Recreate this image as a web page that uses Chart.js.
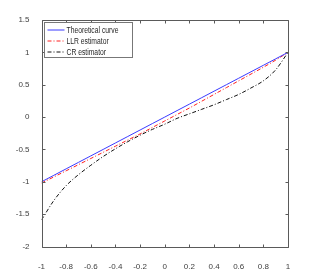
<!DOCTYPE html>
<html><head><meta charset="utf-8">
<script src="https://cdn.jsdelivr.net/npm/chart.js@4.4.0/dist/chart.umd.min.js"></script>
<style>html,body{margin:0;padding:0;background:#fff;}#wrap{width:319px;height:277px;}</style>
</head><body><div id="wrap"><canvas id="c" width="319" height="277"></canvas></div>
<script>
const xs = [-1,-0.9,-0.8,-0.7,-0.6,-0.5,-0.4,-0.3,-0.2,-0.1,0,0.1,0.2,0.3,0.4,0.5,0.6,0.7,0.8,0.9,1];
const theoretical = [-1,-0.9,-0.8,-0.7,-0.6,-0.5,-0.4,-0.3,-0.2,-0.1,0,0.1,0.2,0.3,0.4,0.5,0.6,0.7,0.8,0.9,1];
const llr = [-1.02,-0.925,-0.83,-0.735,-0.64,-0.545,-0.45,-0.355,-0.26,-0.16,-0.06,0.04,0.14,0.245,0.35,0.455,0.56,0.665,0.77,0.88,1.0];
const cr = [-1.59,-1.29,-1.06,-0.89,-0.745,-0.61,-0.49,-0.38,-0.28,-0.19,-0.11,-0.02,0.05,0.12,0.19,0.27,0.35,0.45,0.56,0.73,1.0];
const labels = ['Theoretical curve','LLR estimator','CR estimator'];
const xTicks = [-1,-0.8,-0.6,-0.4,-0.2,0,0.2,0.4,0.6,0.8,1];
const yTicks = [-2,-1.5,-1,-0.5,0,0.5,1,1.5];

const FONT = '"Liberation Sans Narrow", "Liberation Sans", Arial, sans-serif';
const AXC = '#5a5a5a';
const pts = a => xs.map((x,i)=>({x:x,y:a[i]}));
const fmt = v => String(Number(v.toFixed(1)));

const boxPlugin = {
  id:'box',
  afterDraw(chart){
    const {ctx, chartArea:a, scales} = chart;
    const L = Math.round(a.left)+0.5, R = Math.round(a.right)+0.5, T = Math.round(a.top)+0.5, B = Math.round(a.bottom)+0.5;
    ctx.save();
    ctx.strokeStyle = AXC; ctx.lineWidth = 1; ctx.setLineDash([]);
    ctx.beginPath(); ctx.rect(L, T, R-L, B-T); ctx.stroke();
    const tl = 3;
    ctx.beginPath();
    xTicks.forEach(v=>{ const p = Math.round(scales.x.getPixelForValue(v))+0.5; ctx.moveTo(p,B); ctx.lineTo(p,B-tl); ctx.moveTo(p,T); ctx.lineTo(p,T+tl); });
    yTicks.forEach(v=>{ const p = Math.round(scales.y.getPixelForValue(v))+0.5; ctx.moveTo(L,p); ctx.lineTo(L+tl,p); ctx.moveTo(R,p); ctx.lineTo(R-tl,p); });
    ctx.stroke();
    // legend
    const lx = 44.5, ly = 22.5, lw = 88, lh = 35;
    ctx.fillStyle = '#fff'; ctx.fillRect(lx, ly, lw, lh);
    ctx.strokeStyle = '#777'; ctx.strokeRect(lx, ly, lw, lh);
    ctx.font = '8.5px ' + FONT; ctx.textBaseline = 'middle'; ctx.textAlign = 'left';
    const sx = Math.min(1, 52 / ctx.measureText(labels[0]).width);
    chart.data.datasets.forEach((ds,i)=>{
      const y = ly + 7.5 + i*11;
      ctx.strokeStyle = ds.borderColor; ctx.lineWidth = ds.borderWidth;
      ctx.setLineDash(ds.borderDash || []);
      ctx.beginPath(); ctx.moveTo(lx+3, y); ctx.lineTo(lx+20, y); ctx.stroke();
      ctx.setLineDash([]);
      ctx.save(); ctx.translate(lx+22, y+0.5); ctx.scale(sx,1);
      ctx.fillStyle = '#262626'; ctx.fillText(ds.label, 0, 0);
      ctx.restore();
    });
    ctx.restore();
  }
};

new Chart(document.getElementById('c'), {
  type:'line',
  data:{datasets:[
    {label:labels[0], data:pts(theoretical), borderColor:'#3b3bff', borderWidth:1, pointRadius:0, tension:0},
    {label:labels[1], data:pts(llr), borderColor:'#ff2020', borderWidth:1, borderDash:[4,2,1,2], pointRadius:0, cubicInterpolationMode:'monotone'},
    {label:labels[2], data:pts(cr), borderColor:'#111', borderWidth:1, borderDash:[4,2,1,2], pointRadius:0, cubicInterpolationMode:'monotone'}
  ]},
  options:{
    responsive:false, animation:false, events:[],
    layout:{padding:{top:20, right:31, left:0, bottom:0}},
    plugins:{legend:{display:false}, tooltip:{enabled:false}},
    scales:{
      x:{type:'linear', min:-1, max:1,
         afterBuildTicks: s => { s.ticks = xTicks.map(v=>({value:v})); },
         afterFit: s => { s.height = 30.5; },
         grid:{display:false}, border:{display:false},
         ticks:{padding:7, color:'#404040', font:{family:FONT, size:8}, callback:v=>fmt(v), maxRotation:0, autoSkip:false}},
      y:{type:'linear', min:-2, max:1.5,
         afterBuildTicks: s => { s.ticks = yTicks.map(v=>({value:v})); },
         afterFit: s => { s.width = 41.5; },
         grid:{display:false}, border:{display:false},
         ticks:{padding:4, color:'#404040', font:{family:FONT, size:8}, callback:v=>fmt(v), autoSkip:false}}
    }
  },
  plugins:[boxPlugin]
});
</script></body></html>
